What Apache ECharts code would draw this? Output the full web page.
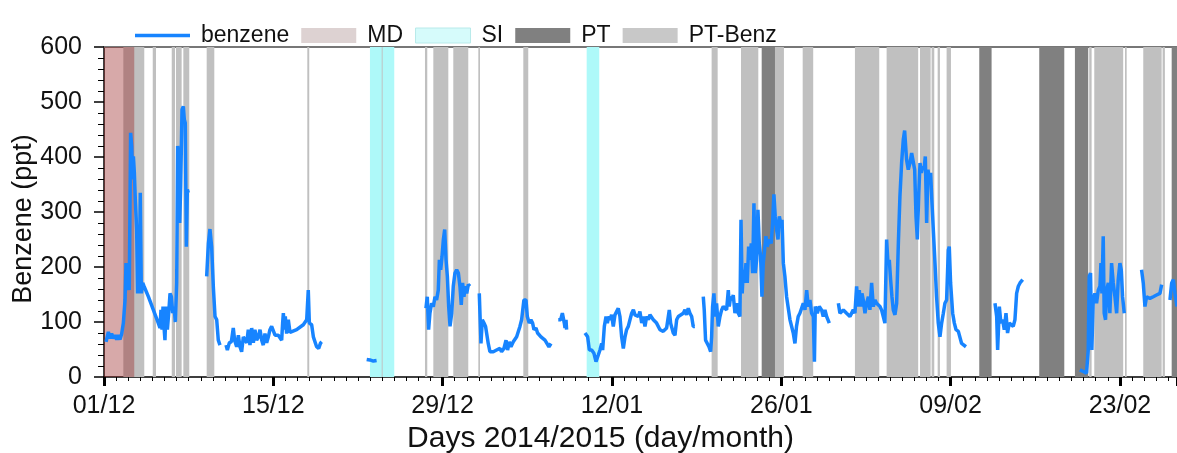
<!DOCTYPE html>
<html>
<head>
<meta charset="utf-8">
<script src="https://cdn.jsdelivr.net/npm/echarts@6/dist/echarts.min.js"></script>
<style>
html,body{margin:0;padding:0;background:#fff;}
#chart{width:1177px;height:453px;}
</style>
</head>
<body>
<div id="chart"></div>
<script>
// x values are days since 01/12/2014 00:00
const tickLabels = ['01/12', '15/12', '29/12', '12/01', '26/01', '09/02', '23/02'];

const benzene = [
[0.17,64],[0.36,82],[0.50,70],[0.63,79],[0.77,70],[0.91,76],[1.05,68],[1.19,76],[1.32,68],[1.46,78],[1.60,98],[1.74,140],[1.82,207],[1.93,158],[2.01,207],[2.09,158],[2.20,444],[2.29,420],[2.37,359],[2.43,401],[2.51,371],[2.59,322],[2.70,268],[2.78,152],[2.87,268],[2.92,152],[3.00,335],[3.09,152],[3.20,171],[3.31,165],[3.67,146],[4.08,122],[4.49,98],[4.63,89],[4.71,122],[4.80,86],[4.88,128],[4.96,92],[5.04,67],[5.13,128],[5.24,86],[5.35,116],[5.46,152],[5.57,146],[5.68,116],[5.79,128],[5.90,100],[6.01,171],[6.09,420],[6.17,401],[6.26,280],[6.34,347],[6.45,486],[6.56,492],[6.64,468],[6.72,462],[6.81,237],[6.89,341],[6.97,335],[6.98,null],
[8.49,183],[8.63,243],[8.76,269],[8.90,237],[9.04,164],[9.18,110],[9.32,104],[9.45,67],[9.59,58],[9.8,null],
[10.09,58],[10.20,49],[10.36,62],[10.53,64],[10.69,89],[10.80,67],[10.97,55],[11.11,76],[11.24,55],[11.38,46],[11.52,73],[11.66,76],[11.80,62],[11.93,86],[12.07,58],[12.21,89],[12.35,62],[12.48,86],[12.62,67],[12.76,73],[12.90,86],[13.04,67],[13.17,58],[13.31,79],[13.45,62],[13.59,73],[13.72,86],[13.86,92],[14.00,89],[14.14,76],[14.28,79],[14.41,76],[14.55,73],[14.69,67],[14.77,98],[14.83,116],[14.91,86],[14.99,110],[15.10,79],[15.24,104],[15.38,81],[15.93,86],[16.48,95],[16.76,104],[16.89,158],[16.98,98],[17.17,95],[17.31,73],[17.45,76],[17.58,55],[17.75,52],[17.91,62],[18.00,64],[18.1,null],
[21.72,32],[21.99,31],[22.27,29],[22.54,30],[22.6,null],
[26.62,125],[26.73,146],[26.84,86],[26.95,116],[27.09,134],[27.23,128],[27.37,146],[27.50,140],[27.64,158],[27.73,213],[27.84,195],[27.95,219],[28.06,250],[28.17,268],[28.28,213],[28.39,183],[28.50,128],[28.61,92],[28.75,116],[28.88,165],[29.02,189],[29.16,195],[29.30,189],[29.43,165],[29.54,131],[29.65,171],[29.76,146],[29.88,165],[29.99,152],[30.12,168],[30.26,165],[30.4,null],
[31.03,152],[31.17,61],[31.28,104],[31.42,98],[31.55,92],[31.64,92],[31.77,61],[31.91,46],[32.19,46],[32.46,49],[32.74,52],[32.87,46],[33.07,52],[33.24,67],[33.37,49],[33.51,64],[33.65,55],[33.84,64],[34.12,73],[34.39,92],[34.53,104],[34.72,140],[34.89,140],[35.00,110],[35.16,98],[35.30,104],[35.44,98],[35.55,86],[35.72,89],[35.85,80],[35.99,83],[36.13,73],[36.27,73],[36.46,67],[36.60,70],[36.79,55],[36.96,61],[37.1,null],
[37.56,104],[37.76,104],[37.90,116],[38.06,98],[38.12,89],[38.20,104],[38.25,86],[38.4,null],
[39.77,80],[39.99,73],[40.13,49],[40.32,49],[40.51,43],[40.68,28],[40.87,40],[41.01,49],[41.15,61],[41.23,49],[41.37,92],[41.51,110],[41.62,98],[41.73,110],[41.84,104],[41.97,113],[42.11,92],[42.25,113],[42.39,110],[42.52,125],[42.66,110],[42.80,73],[42.94,52],[43.08,73],[43.21,86],[43.35,92],[43.49,104],[43.63,116],[43.77,122],[43.90,113],[44.04,116],[44.18,110],[44.31,119],
[44.46,98],[44.59,110],[44.73,92],[44.87,110],[45.01,104],[45.14,113],[45.28,110],[45.42,104],[45.69,98],[45.97,86],[46.24,83],[46.52,89],[46.74,122],[46.85,98],[47.07,80],[47.21,76],[47.35,104],[47.49,110],[47.62,113],[47.90,116],[48.04,122],[48.17,113],[48.31,125],[48.45,116],[48.59,110],[48.72,92],[48.86,92],[49.0,null],
[49.55,146],[49.63,122],[49.74,67],[49.88,64],[50.02,55],[50.16,46],[50.24,73],[50.32,128],[50.43,152],[50.54,110],[50.65,134],[50.79,92],[50.93,110],[51.07,122],[51.20,128],[51.34,125],[51.48,122],[51.62,158],[51.70,128],[51.81,146],[51.92,140],[52.03,149],[52.17,116],[52.31,134],[52.45,116],[52.58,110],[52.67,286],[52.77,152],[52.86,195],[52.97,171],[53.08,207],[53.19,171],[53.30,237],[53.41,213],[53.52,243],[53.63,189],[53.74,316],[53.85,189],[53.96,213],[54.07,304],[54.18,243],[54.29,219],[54.40,146],[54.51,207],[54.62,231],[54.73,256],[54.84,237],[55.01,250],[55.17,243],[55.28,280],[55.39,332],[55.50,292],[55.61,268],[55.73,250],[55.84,292],[55.95,280],[56.06,286],[56.17,207],[56.30,183],[56.44,146],[56.72,104],[56.99,80],[57.13,61],[57.26,92],[57.40,110],[57.54,116],[57.68,119],[57.82,134],[57.96,122],[58.10,158],[58.23,128],[58.37,140],[58.51,116],[58.65,110],[58.74,28],[58.81,128],[58.98,116],[59.14,128],[59.33,122],[59.47,110],[59.61,122],[59.75,110],[59.97,98],[60.1,null],
[60.72,134],[60.85,116],[61.13,122],[61.40,116],[61.68,110],[61.82,113],[61.95,122],[62.09,116],[62.23,165],[62.34,128],[62.45,158],[62.56,128],[62.67,152],[62.78,140],[62.92,116],[63.06,134],[63.20,146],[63.33,122],[63.47,171],[63.61,128],[63.75,140],[63.88,134],[64.02,134],[64.16,128],[64.29,122],[64.43,119],[64.57,98],[64.71,250],[64.82,207],[64.93,213],[65.04,177],[65.15,146],[65.26,122],[65.40,113],[65.54,134],[65.68,243],[65.81,328],[65.95,389],[66.09,432],[66.20,448],[66.36,395],[66.50,377],[66.64,389],[66.78,407],[66.91,410],[67.03,377],[67.14,292],[67.25,250],[67.36,328],[67.47,389],[67.58,371],[67.69,383],[67.80,377],[67.91,401],[68.02,280],[68.13,377],[68.24,359],[68.35,371],[68.46,316],[68.57,268],[68.71,207],[68.84,146],[68.98,98],[69.12,73],[69.26,98],[69.40,116],[69.53,134],[69.67,140],[69.81,231],[69.89,237],[70.00,171],[70.17,116],[70.31,98],[70.45,86],[70.64,83],[70.78,80],[70.91,61],[71.05,58],[71.27,55],[71.4,null],
[73.67,134],[73.81,110],[73.89,49],[74.03,128],[74.16,98],[74.30,104],[74.44,86],[74.58,116],[74.71,80],[74.85,98],[74.99,98],[75.18,92],[75.32,104],[75.46,152],[75.60,165],[75.74,171],[75.87,171],[75.96,177],[76.1,null],
[80.69,13],[80.97,10],[81.24,7],[81.38,49],[81.46,183],[81.57,189],[81.68,49],[81.79,140],[81.93,152],[82.07,134],[82.21,158],[82.35,165],[82.43,207],[82.51,152],[82.62,256],[82.70,116],[82.81,104],[82.90,158],[83.04,171],[83.17,116],[83.31,207],[83.45,171],[83.59,146],[83.73,116],[83.86,177],[84.00,207],[84.11,195],[84.22,146],[84.36,116],[84.5,null],
[85.79,195],[85.93,171],[86.07,128],[86.20,146],[86.48,143],[86.76,146],[87.03,149],[87.31,152],[87.45,168],[87.6,null],
[88.14,140],[88.28,171],[88.42,177],[88.55,152],[88.72,128]
];

// episode bands: [start day, end day]
const mdBands = [[0, 2.5]];
const siBands = [[21.99, 24.0], [39.91, 40.95]];
const ptBands = [[54.38, 55.48], [72.37, 73.39], [77.33, 79.4], [80.28, 81.38], [88.28, 88.8]];
const ptBenzBands = [[1.6, 3.33], [4.03, 4.3], [5.6, 5.87], [5.95, 6.42], [6.56, 7.05], [8.49, 9.12], [16.81, 16.97], [22.96, 23.04], [26.54, 26.73], [27.23, 28.47], [28.88, 30.12], [30.95, 31.09], [34.67, 35.08], [50.24, 50.74], [52.67, 54.1], [55.48, 56.22], [57.77, 58.64], [62.09, 64.1], [64.71, 67.32], [67.47, 68.35], [68.43, 68.65], [68.93, 69.12], [69.67, 70.03], [81.46, 81.66], [81.88, 84.27], [84.42, 84.56], [85.93, 87.45], [87.53, 87.72]];

const xMax = 88.72;
const FONT = 'Liberation Sans, Arial, sans-serif';

function toAreas(bands) {
  return bands.map(b => [{ xAxis: b[0] }, { xAxis: Math.min(b[1], xMax) }]);
}
function bandSeries(name, bands, color, z) {
  return {
    name: name, type: 'line', data: [], z: z, silent: true,
    itemStyle: { color: color }, lineStyle: { color: color },
    markArea: { silent: true, itemStyle: { color: color, borderWidth: 0 }, data: toAreas(bands) }
  };
}

const chart = echarts.init(document.getElementById('chart'), null, { renderer: 'canvas' });
chart.setOption({
  animation: false,
  backgroundColor: '#fff',
  textStyle: { fontFamily: FONT },
  legend: {
    left: 130, top: 19,
    itemWidth: 55, itemHeight: 15, itemGap: 12,
    textStyle: { fontSize: 23, color: '#111', fontFamily: FONT, padding: [0, 0, 0, 6] },
    data: [
      { name: 'benzene', icon: 'path://M0,0 H100 V6 H0 Z', itemStyle: { color: '#1784ff' } },
      { name: 'MD', icon: 'rect', itemStyle: { color: '#ddd2d2' } },
      { name: 'SI', icon: 'rect', itemStyle: { color: '#d6fbfb', borderColor: '#b8eaea', borderWidth: 1 } },
      { name: 'PT', icon: 'rect', itemStyle: { color: '#808080' } },
      { name: 'PT-Benz', icon: 'rect', itemStyle: { color: '#c8c8c8' } }
    ]
  },
  grid: { left: 104, right: 0, top: 47, bottom: 76, containLabel: false, outerBoundsMode: 'none' },
  xAxis: [{
    type: 'value', min: 0, max: xMax, interval: 14, position: 'bottom',
    name: 'Days 2014/2015 (day/month)', nameLocation: 'middle', nameGap: 47, nameMoveOverlap: false,
    nameTextStyle: { fontSize: 30, color: '#111', fontFamily: FONT, padding: [0, 80, 0, 0] },
    axisLine: { show: true, lineStyle: { color: '#000', width: 1.5 } },
    axisTick: { show: true, length: 9, lineStyle: { color: '#000', width: 3 } },
    minorTick: { show: true, splitNumber: 14, length: 4, lineStyle: { color: '#000', width: 1 } },
    axisLabel: { fontSize: 25, color: '#111', margin: 17, fontFamily: FONT,
      formatter: v => tickLabels[Math.round(v / 14)] || '' },
    splitLine: { show: false }
  }, {
    type: 'value', min: 0, max: xMax, position: 'top',
    axisLine: { show: true, lineStyle: { color: '#777', width: 2 } },
    axisTick: { show: false }, axisLabel: { show: false }, splitLine: { show: false }
  }],
  yAxis: {
    type: 'value', min: 0, max: 600, interval: 100,
    name: 'Benzene (ppt)', nameLocation: 'middle', nameGap: 67, nameRotate: 90, nameMoveOverlap: false,
    nameTextStyle: { fontSize: 27, color: '#111', fontFamily: FONT, padding: [0, 14, 0, 0] },
    axisLine: { show: true, lineStyle: { color: '#000', width: 1.5 } },
    axisTick: { show: true, length: 10, lineStyle: { color: '#000', width: 1.5 } },
    minorTick: { show: true, splitNumber: 5, length: 6, lineStyle: { color: '#000', width: 1 } },
    axisLabel: { fontSize: 25, color: '#111', margin: 22, fontFamily: FONT },
    splitLine: { show: false }
  },
  series: [
    bandSeries('SI', siBands, '#aef9f9', 1),
    bandSeries('PT', ptBands, '#808080', 1),
    bandSeries('PT-Benz', ptBenzBands, '#c0c0c0', 1),
    bandSeries('MD', mdBands, 'rgba(150,30,30,0.38)', 2),
    {
      name: 'benzene', type: 'line', z: 5, data: benzene,
      showSymbol: false, symbol: 'none', connectNulls: false,
      itemStyle: { color: '#1784ff' },
      lineStyle: { color: '#1784ff', width: 3.5 }
    }
  ]
});
</script>
</body>
</html>
